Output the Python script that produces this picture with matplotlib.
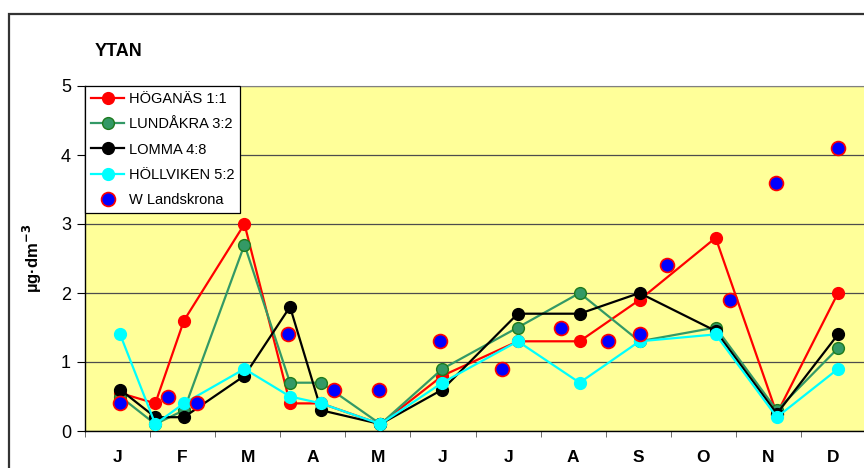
import matplotlib
matplotlib.use("Agg")
import matplotlib.pyplot as plt
from matplotlib.patches import Rectangle

plt.rcParams['font.family'] = ['Liberation Sans', 'DejaVu Sans']
plt.rcParams['mathtext.default'] = 'bf'

# sampling positions, in months from 1 Jan
x_samples = [0.54, 1.08, 1.52, 2.45, 3.15, 3.63, 4.54, 5.49, 6.65, 7.6, 8.52, 9.69, 10.63, 11.57]

hoganas = [0.55, 0.4, 1.6, 3.0, 0.4, 0.4, 0.1, 0.8, 1.3, 1.3, 1.9, 2.8, 0.25, 2.0]
lundakra = [0.5, 0.1, 0.3, 2.7, 0.7, 0.7, 0.1, 0.9, 1.5, 2.0, 1.3, 1.5, 0.3, 1.2]
lomma = [0.6, 0.2, 0.2, 0.8, 1.8, 0.3, 0.1, 0.6, 1.7, 1.7, 2.0, 1.45, 0.25, 1.4]
hollviken = [1.4, 0.1, 0.4, 0.9, 0.5, 0.4, 0.1, 0.7, 1.3, 0.7, 1.3, 1.4, 0.2, 0.9]

x_wl = [0.54, 1.28, 1.72, 3.12, 3.82, 4.51, 5.46, 6.4, 7.32, 8.03, 8.52, 8.95, 9.91, 10.62, 11.57]
w_landskrona = [0.4, 0.5, 0.4, 1.4, 0.6, 0.6, 1.3, 0.9, 1.5, 1.3, 1.4, 2.4, 1.9, 3.6, 4.1]

months = ['J', 'F', 'M', 'A', 'M', 'J', 'J', 'A', 'S', 'O', 'N', 'D']

fig = plt.figure(figsize=(8.64, 4.68), dpi=100)
# outer chart frame (cut off at right/bottom)
fig.patches.append(Rectangle((9 / 864, -0.1), 1.2, (468 - 14) / 468 + 0.1,
                             transform=fig.transFigure, fill=False,
                             edgecolor='#333333', linewidth=1.6))

ax = fig.add_axes([85 / 864, 37 / 468, 781 / 864, 345 / 468])
ax.set_facecolor('#FFFF99')

ax.plot(x_samples, hoganas, color='red', lw=1.6, marker='o', ms=8.5,
        mfc='red', mec='red', label='HÖGANÄS 1:1', zorder=3)
ax.plot(x_samples, lundakra, color='#339966', lw=1.6, marker='o', ms=8.5,
        mfc='#339966', mec='#1E7A1E', label='LUNDÅKRA 3:2', zorder=3)
ax.plot(x_samples, lomma, color='black', lw=1.6, marker='o', ms=8.5,
        mfc='black', mec='black', label='LOMMA 4:8', zorder=3)
ax.plot(x_samples, hollviken, color='cyan', lw=1.6, marker='o', ms=8.5,
        mfc='cyan', mec='cyan', label='HÖLLVIKEN 5:2', zorder=3)
ax.plot(x_wl, w_landskrona, ls='none', marker='o', ms=10,
        mfc='blue', mec='red', mew=1.2, label='W Landskrona', zorder=4)

ax.set_xlim(0, 12)
ax.set_ylim(0, 5)
ax.set_yticks(range(6))
ax.grid(axis='y', color='#4d4d4d', lw=0.9)
ax.set_axisbelow(True)
ax.tick_params(axis='y', direction='out', length=6, width=0.8, labelsize=13, pad=4)

ax.set_xticks(range(13))
ax.set_xticklabels([])
ax.tick_params(axis='x', which='major', direction='out', length=4, width=0.6, color='#555555')
ax.set_xticks([i + 0.5 for i in range(12)], minor=True)
ax.set_xticklabels(months, minor=True, fontweight='bold', fontsize=12.5)
ax.tick_params(axis='x', which='minor', length=0, pad=14)

for s in ['left', 'bottom']:
    ax.spines[s].set_color('black')
    ax.spines[s].set_linewidth(1.0)
ax.spines['top'].set_color('#808080')
ax.spines['right'].set_visible(False)

ax.set_ylabel('µg·dm$^{-3}$', fontweight='bold', fontsize=12, labelpad=12)
fig.text(95 / 864, 1 - 52 / 468, 'YTAN', fontweight='bold', fontsize=13, va='center', ha='left')

leg = ax.legend(loc='upper left', borderaxespad=0, fontsize=10.5, frameon=True,
                fancybox=False, edgecolor='black', framealpha=1, handlelength=2.3,
                handletextpad=0.3, labelspacing=0.78, borderpad=0.4)
leg.get_frame().set_linewidth(0.9)
leg.set_zorder(5)

fig.savefig('out.png', dpi=100)
